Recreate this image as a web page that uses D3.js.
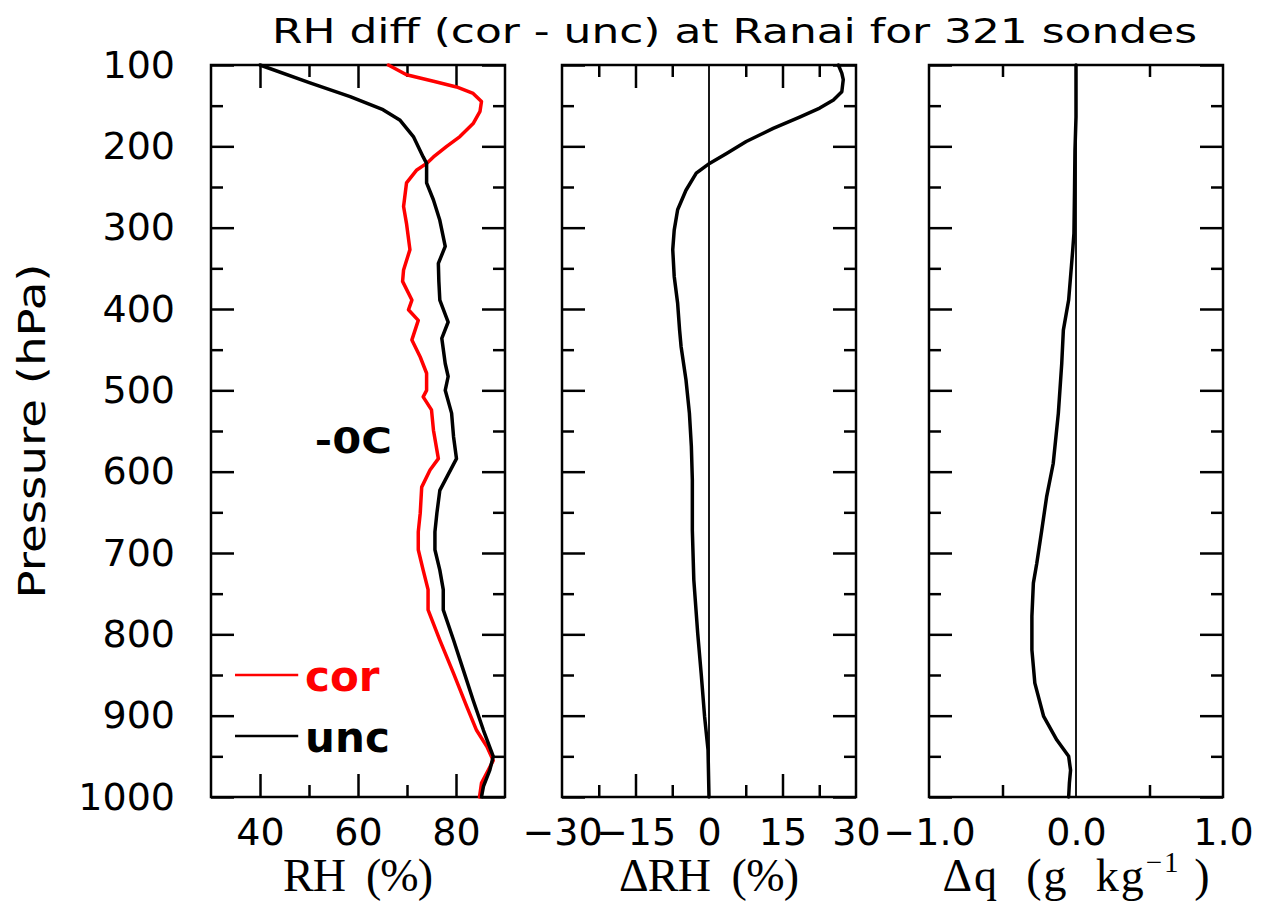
<!DOCTYPE html>
<html>
<head>
<meta charset="utf-8">
<script src="https://cdn.jsdelivr.net/npm/d3@7"></script>
<style>
  body { margin: 0; background: #fff; }
  svg { display: block; font-family: 'DejaVu Sans', sans-serif; }
</style>
</head>
<body>
<svg id="chart" width="1261" height="903"></svg>
<script>
// pressure axis (hPa)
var pressureMajor = [100, 200, 300, 400, 500, 600, 700, 800, 900, 1000];
var pressureMinor = [150, 250, 350, 450, 550, 650, 750, 850, 950];

// RH uncorrected (black) and corrected (red)
var uncP = [100, 122, 139, 155, 168, 188, 213, 221, 245, 266, 291, 323, 344, 366, 389, 416, 436, 467, 483, 500,
  528, 557, 584, 623, 651, 674, 696, 721, 745, 770, 807, 844, 881, 918, 950, 967, 987, 1000];
var uncRH = [40, 50.2, 58.4, 65.1, 68.6, 71.3, 73.3, 74.0, 74.0, 75.4, 76.7, 77.8, 76.4, 76.5, 76.7, 78.4, 77.1, 77.8, 78.4, 77.8,
  79.1, 79.5, 80.1, 76.7, 76.1, 75.7, 75.7, 76.7, 77.4, 77.4, 79.5, 81.5, 83.5, 85.6, 87.6, 86.9, 85.6, 85.2];

var corP = [100, 112, 120, 127, 135, 145, 157, 172, 188, 200, 213, 221, 229, 245, 274, 295, 327, 352, 366, 389,
  401, 414, 438, 459, 479, 500, 508, 524, 549, 584, 598, 619, 651, 674, 696, 721, 745, 770, 807, 848,
  889, 918, 938, 955, 967, 983, 1000];
var corRH = [66.2, 69.9, 75.4, 80.1, 83.5, 85.2, 84.9, 83.5, 80.8, 78.1, 75.4, 74.0, 72.0, 69.9, 69.3, 69.9, 70.6, 69.3, 69.1, 71.0,
  70.3, 72.3, 71.0, 72.7, 74.0, 74.0, 73.3, 75.0, 75.4, 76.4, 74.7, 73.0, 72.7, 72.3, 72.3, 73.3, 74.3, 74.3, 76.7, 79.5,
  82.2, 84.2, 86.3, 87.6, 86.6, 85.2, 84.8];

// Delta RH (cor - unc), middle panel
var dRhP = [100, 110, 118, 133, 143, 153, 164, 178, 194, 209, 221, 233, 254, 278, 303, 327, 360, 393, 426, 446,
  487, 528, 569, 610, 672, 733, 799, 848, 901, 942, 1000];
var dRh = [26.4, 27.1, 27.4, 27.1, 25.4, 22.6, 18.5, 13.1, 7.6, 3.5, 0.1, -2.6, -4.7, -6.4, -7.1, -7.4, -7.1, -6.4, -6.0, -5.7,
  -4.7, -4.0, -3.6, -3.4, -3.4, -3.1, -2.3, -1.6, -0.9, -0.2, 0];

// Delta q (g/kg), right panel
var dqP = [100, 164, 205, 254, 307, 327, 389, 426, 467, 528, 590, 631, 672, 713, 737, 778, 819, 860, 901, 930,
  950, 967, 983, 1000];
var dq = [0, 0, -0.007, -0.01, -0.014, -0.022, -0.05, -0.086, -0.097, -0.12, -0.155, -0.2, -0.233, -0.267, -0.29, -0.3, -0.3, -0.28, -0.22, -0.13,
  -0.05, -0.037, -0.045, -0.05];

// x axis ticks per panel
var rhLabels = [40, 60, 80], rhMajor = [40, 60, 80], rhMinor = [50, 70];
var dRhLabels = [-30, -15, 0, 15, 30], dRhMajor = [-15, 15], dRhMinor = [-22.5, -7.5, 7.5, 22.5];
var dqLabels = [-1, 0, 1], dqMajor = [], dqMinor = [-0.5, 0.5];

var sans = "'DejaVu Sans', sans-serif";
var serif = "'Liberation Serif', 'DejaVu Serif', serif";

var svg = d3.select('#chart');
var panelTop = 65, ph = 732, pw = 294;
var majorLen = 23, minorLen = 12;

var y = d3.scaleLinear().domain([100, 1000]).range([0, ph]);

var panels = [
  { left: 211, x: d3.scaleLinear().domain([30, 90]).range([0, pw]),
    labels: rhLabels, major: rhMajor, minor: rhMinor, fmt: d3.format('d'), zero: false,
    title: 'RH  (%)', titleLen: 150 },
  { left: 562, x: d3.scaleLinear().domain([-30, 30]).range([0, pw]),
    labels: dRhLabels, major: dRhMajor, minor: dRhMinor, fmt: d3.format('d'), zero: true,
    title: '\u0394RH  (%)', titleLen: 180 },
  { left: 929, x: d3.scaleLinear().domain([-1, 1]).range([0, pw]),
    labels: dqLabels, major: dqMajor, minor: dqMinor, fmt: d3.format('.1f'), zero: true,
    title: null, titleLen: 267 }
];

function styleAxis(sel) {
  sel.select('.domain').remove();
  sel.selectAll('line').attr('stroke', '#000').attr('stroke-width', 2.5);
}

var blank = function() { return ''; };

panels.forEach(function(p, i) {
  var g = svg.append('g').attr('transform', 'translate(' + p.left + ',' + panelTop + ')');

  // y ticks, both sides, pointing in
  g.append('g').call(d3.axisLeft(y).tickValues(pressureMajor).tickSize(-majorLen).tickFormat(blank)).call(styleAxis);
  g.append('g').call(d3.axisLeft(y).tickValues(pressureMinor).tickSize(-minorLen).tickFormat(blank)).call(styleAxis);
  g.append('g').attr('transform', 'translate(' + pw + ',0)')
    .call(d3.axisRight(y).tickValues(pressureMajor).tickSize(-majorLen).tickFormat(blank)).call(styleAxis);
  g.append('g').attr('transform', 'translate(' + pw + ',0)')
    .call(d3.axisRight(y).tickValues(pressureMinor).tickSize(-minorLen).tickFormat(blank)).call(styleAxis);

  // x ticks, top and bottom
  [[p.major, majorLen], [p.minor, minorLen]].forEach(function(t) {
    g.append('g').call(d3.axisTop(p.x).tickValues(t[0]).tickSize(-t[1]).tickFormat(blank)).call(styleAxis);
    g.append('g').attr('transform', 'translate(0,' + ph + ')')
      .call(d3.axisBottom(p.x).tickValues(t[0]).tickSize(-t[1]).tickFormat(blank)).call(styleAxis);
  });

  // x tick labels
  var xl = g.append('g').attr('transform', 'translate(0,' + ph + ')')
    .call(d3.axisBottom(p.x).tickValues(p.labels).tickSize(0).tickPadding(21).tickFormat(p.fmt));
  xl.select('.domain').remove();
  xl.selectAll('text').attr('fill', '#000')
    .style('font-size', '38px').style('font-family', sans);

  // y tick labels only on the first panel
  if (i === 0) {
    var yl = g.append('g').call(d3.axisLeft(y).tickValues(pressureMajor).tickSize(0).tickPadding(36)
      .tickFormat(d3.format('d')));
    yl.select('.domain').remove();
    yl.selectAll('text').attr('fill', '#000')
      .style('font-size', '38px').style('font-family', sans);
  }

  // zero line
  if (p.zero) {
    g.append('line')
      .attr('x1', p.x(0)).attr('x2', p.x(0))
      .attr('y1', 0).attr('y2', ph)
      .attr('stroke', '#000').attr('stroke-width', 1.8);
  }

  // frame
  g.append('rect')
    .attr('x', 0).attr('y', 0).attr('width', pw).attr('height', ph)
    .attr('fill', 'none').attr('stroke', '#000').attr('stroke-width', 2.5);

  p.g = g;
});

function profile(ps, vs) {
  return ps.map(function(pp, k) { return { p: pp, v: vs[k] }; });
}

function drawLine(panel, data, color) {
  var line = d3.line()
    .x(function(d) { return panel.x(d.v); })
    .y(function(d) { return y(d.p); });
  panel.g.append('path')
    .datum(data)
    .attr('d', line)
    .attr('fill', 'none')
    .attr('stroke', color)
    .attr('stroke-width', 3.5)
    .attr('stroke-linejoin', 'round')
    .attr('stroke-linecap', 'round');
}

drawLine(panels[0], profile(corP, corRH), '#ff0000');
drawLine(panels[0], profile(uncP, uncRH), '#000');
drawLine(panels[1], profile(dRhP, dRh), '#000');
drawLine(panels[2], profile(dqP, dq), '#000');

// legend and freezing-level note in the first panel
var p0 = panels[0];
var legend = [
  { name: 'cor', color: '#ff0000', p: 850 },
  { name: 'unc', color: '#000', p: 925 }
];
legend.forEach(function(l) {
  p0.g.append('line')
    .attr('x1', p0.x(34.9)).attr('x2', p0.x(47.8))
    .attr('y1', y(l.p)).attr('y2', y(l.p))
    .attr('stroke', l.color).attr('stroke-width', 2.5);
  p0.g.append('text')
    .attr('x', p0.x(49.2)).attr('y', y(l.p) + 16)
    .attr('fill', l.color)
    .style('font-size', '42px').style('font-weight', 'bold')
    .text(l.name);
});
p0.g.append('text')
  .attr('x', p0.x(51.2)).attr('y', y(577))
  .attr('textLength', 77).attr('lengthAdjust', 'spacingAndGlyphs')
  .style('font-size', '36px').style('font-weight', 'bold')
  .text('-0C');

// axis titles
panels.forEach(function(p) {
  var t = svg.append('text')
    .attr('x', p.left + pw / 2 - p.titleLen / 2).attr('y', 891)
    .attr('textLength', p.titleLen).attr('lengthAdjust', 'spacing')
    .style('font-size', '46px')
    .style('font-family', serif)
    .style('white-space', 'pre');
  if (p.title) {
    t.text(p.title);
  } else {
    t.append('tspan').text('\u0394q  (g  kg');
    t.append('tspan').style('font-size', '29px').attr('dy', -19).text('\u22121');
    t.append('tspan').attr('dy', 19).text(' )');
  }
});

svg.append('text')
  .attr('transform', 'translate(45,431) rotate(-90)')
  .attr('text-anchor', 'middle')
  .attr('textLength', 335).attr('lengthAdjust', 'spacingAndGlyphs')
  .style('font-size', '37px')
  .text('Pressure (hPa)');

svg.append('text')
  .attr('x', 272).attr('y', 43)
  .attr('textLength', 925).attr('lengthAdjust', 'spacingAndGlyphs')
  .style('font-size', '33px')
  .style('white-space', 'pre')
  .text('RH diff (cor - unc) at Ranai for 321 sondes');
</script>
</body>
</html>
